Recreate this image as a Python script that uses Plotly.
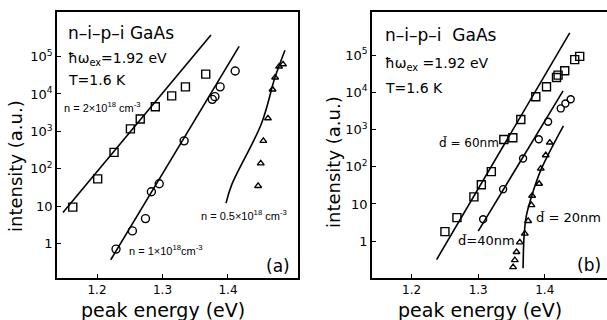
import plotly.graph_objects as go

# ---------------- data ----------------
# panel (a)
a_sq_E = [1.163, 1.201, 1.226, 1.251, 1.266, 1.289, 1.314, 1.335, 1.366]
a_sq_I = [9.5, 54, 275, 1170, 2140, 4570, 8900, 15500, 34000]
a_ci_E = [1.229, 1.254, 1.274, 1.283, 1.295, 1.333, 1.376, 1.380, 1.388, 1.411]
a_ci_I = [0.72, 2.2, 4.7, 24.5, 40, 560, 7200, 8500, 15500, 41000]
a_tr_E = [1.446, 1.450, 1.454, 1.461, 1.468, 1.472, 1.478, 1.484]
a_tr_I = [35, 140, 560, 2240, 13200, 27500, 54000, 62000]
a_fit2_E = [1.148, 1.374]
a_fit2_I = [6.8, 374000]
a_fit1_E = [1.221, 1.417]
a_fit1_I = [0.374, 186000]
a_fit05_E = [1.397, 1.4056, 1.4513, 1.4718, 1.487]
a_fit05_I = [12.2, 37.4, 1660, 27900, 148000]

# panel (b)
b_sq_E = [1.250, 1.268, 1.2935, 1.3047, 1.3197, 1.3385, 1.352, 1.364, 1.3865,
          1.4026, 1.4176, 1.420, 1.430, 1.445, 1.4525]
b_sq_I = [1.8, 4.3, 15.5, 33, 74, 540, 600, 1860, 7600, 14100, 25000, 29000,
          38000, 76000, 93000]
b_ci_E = [1.3074, 1.3374, 1.3674, 1.391, 1.405, 1.424, 1.431, 1.439]
b_ci_I = [3.9, 25, 166, 550, 1620, 3700, 5000, 6500]
b_tr_E = [1.3524, 1.355, 1.3575, 1.3625, 1.370, 1.375, 1.380, 1.381, 1.3915,
          1.394, 1.4015, 1.4075]
b_tr_I = [0.2, 0.31, 0.51, 0.93, 1.6, 3.5, 9.3, 16.6, 35, 89, 204, 447]
b_fit60_E = [1.2375, 1.4375]
b_fit60_I = [0.32, 398000]
b_fit40_E = [1.300, 1.4275]
b_fit40_I = [1.86, 11000]
b_fit20_E = [1.3674, 1.369, 1.3725, 1.3824, 1.395, 1.428]
b_fit20_I = [0.186, 1.45, 5.0, 21.4, 89, 1260]

x_ticks = [1.2, 1.3, 1.4]
x_tick_text = ["1.2", "1.3", "1.4"]
y_ticks = [1, 10, 100, 1e3, 1e4, 1e5]
y_tick_text = ["1", "10", "10<sup>2</sup>", "10<sup>3</sup>", "10<sup>4</sup>", "10<sup>5</sup>"]

# ---------------- figure ----------------
W, H = 607, 320
FONT = "DejaVu Sans"
SMALL = "Liberation Sans"
fig = go.Figure()

def fitline(x, y, xa, ya):
    fig.add_trace(go.Scatter(x=x, y=y, mode="lines", xaxis=xa, yaxis=ya,
                             line=dict(color="black", width=1.6, shape="spline"),
                             showlegend=False, hoverinfo="skip"))

def pts(x, y, sym, size, xa, ya):
    fig.add_trace(go.Scatter(x=x, y=y, mode="markers", xaxis=xa, yaxis=ya,
                             marker=dict(symbol=sym, size=size, color="black",
                                         line=dict(color="black", width=1.4)),
                             showlegend=False))

fitline(a_fit2_E, a_fit2_I, "x", "y")
fitline(a_fit1_E, a_fit1_I, "x", "y")
fitline(a_fit05_E, a_fit05_I, "x", "y")
pts(a_sq_E, a_sq_I, "square-open", 8, "x", "y")
pts(a_ci_E, a_ci_I, "circle-open", 8, "x", "y")
pts(a_tr_E, a_tr_I, "triangle-up-open", 6, "x", "y")

fitline(b_fit60_E, b_fit60_I, "x2", "y2")
fitline(b_fit40_E, b_fit40_I, "x2", "y2")
fitline(b_fit20_E, b_fit20_I, "x2", "y2")
pts(b_sq_E, b_sq_I, "square-open", 8, "x2", "y2")
pts(b_ci_E, b_ci_I, "circle-open", 7, "x2", "y2")
pts(b_tr_E, b_tr_I, "triangle-up-open", 6, "x2", "y2")

def px(x):
    return x / W

def py(y):
    return 1 - y / H

ax_common = dict(showgrid=False, zeroline=False, linecolor="black", linewidth=1.5,
                 ticks="inside", ticklen=4, tickwidth=1.2, tickcolor="black",
                 tickfont=dict(family=FONT, size=13, color="black"))

fig.update_layout(
    width=W, height=H, margin=dict(l=0, r=0, t=0, b=0),
    paper_bgcolor="white", plot_bgcolor="white",
    xaxis=dict(ax_common, domain=[px(57), px(298)], range=[1.1389, 1.5069],
               tickvals=x_ticks, ticktext=x_tick_text, mirror=True, anchor="y",
               tickfont=dict(family=FONT, size=12, color="black")),
    yaxis=dict(ax_common, domain=[py(278), py(12)], type="log", range=[-0.915, 6.19],
               tickvals=y_ticks, ticktext=y_tick_text, mirror=True, anchor="x"),
    xaxis2=dict(ax_common, domain=[px(372), 1.0], range=[1.1404, 1.4935],
                tickvals=x_ticks, ticktext=x_tick_text, mirror=True, anchor="y2",
                tickfont=dict(family=FONT, size=12, color="black")),
    yaxis2=dict(ax_common, domain=[py(278), py(12)], type="log", range=[-0.99, 6.16],
                tickvals=y_ticks, ticktext=y_tick_text, mirror=False, anchor="x2"),
)

def txt(x, y, s, size, xanchor="left", angle=0, family=FONT):
    fig.add_annotation(x=px(x), y=py(y), xref="paper", yref="paper", text=s,
                       showarrow=False, xanchor=xanchor, yanchor="middle",
                       textangle=angle,
                       font=dict(family=family, size=size, color="black"))

# axis titles
txt(15, 166, "intensity (a.u.)", 18, "center", -90)
txt(333, 162, "intensity (a.u.)", 18, "center", -90)
txt(163, 310, "peak energy (eV)", 19, "center")
txt(480, 310, "peak energy (eV)", 19, "center")

# panel (a) labels
txt(66, 33, "n–i–p–i GaAs", 17)
txt(66, 59, "ħω<sub>ex</sub>=1.92 eV", 14)
txt(66, 80, "T=1.6 K", 14)
txt(62, 107, "n = 2×10<sup>18</sup> cm<sup>-3</sup>", 11, family=SMALL)
txt(127, 250, "n = 1×10<sup>18</sup>cm<sup>-3</sup>", 11, family=SMALL)
txt(199, 215, "n = 0.5×10<sup>18</sup> cm<sup>-3</sup>", 11, family=SMALL)
txt(292, 266, "(a)", 17, "right")

# panel (b) labels
txt(383, 35, "n–i–p–i  GaAs", 17)
txt(383, 64, "ħω<sub>ex</sub> =1.92 eV", 14)
txt(383, 88, "T=1.6 K", 14)
txt(437, 143, "d̃ = 60nm", 12)
txt(456, 240, "d̃=40nm", 13)
txt(534, 217, "d̃ = 20nm", 13)
txt(603, 265, "(b)", 17, "right")

fig.write_html("out.html")
